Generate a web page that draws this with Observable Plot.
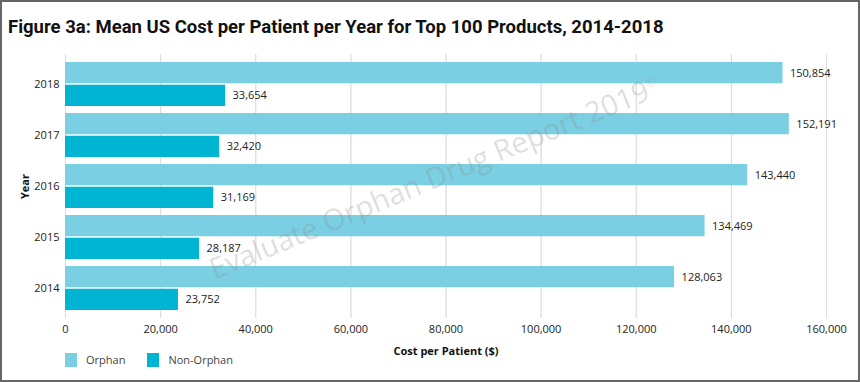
<!DOCTYPE html>
<html><head><meta charset="utf-8">
<script src="https://cdn.jsdelivr.net/npm/d3@7"></script>
<script src="https://cdn.jsdelivr.net/npm/@observablehq/plot@0.6"></script>
<style>
body{margin:0;background:#fff;font-family:"Open Sans",sans-serif;}
#wrap{position:relative;width:860px;height:382px;overflow:hidden;background:#fff;}
#border{position:absolute;left:0;top:0;width:860px;height:382px;box-sizing:border-box;border:2px solid #666;pointer-events:none;}
#title{position:absolute;left:8px;top:16px;font-family:Roboto,sans-serif;font-weight:700;font-size:18.5px;color:#111;white-space:nowrap;}
#chart{position:absolute;left:0;top:48px;}
#legend{position:absolute;left:65px;top:352px;font-size:11px;color:#444;display:flex;align-items:center;}
.sw{width:12px;height:14px;display:inline-block;margin-right:9px;}
.it{display:flex;align-items:center;margin-right:22px;}
#wm{position:absolute;left:192px;top:157px;font-size:29px;color:rgba(140,140,140,0.28);transform:rotate(-22.5deg);transform-origin:center;white-space:nowrap;pointer-events:none;}
#wm sup{font-size:13px;}
</style></head>
<body>
<div id="wrap">
  <div id="title">Figure 3a: Mean US Cost per Patient per Year for Top 100 Products, 2014-2018</div>
  <div id="chart"></div>
  <div id="legend"></div>
  <div id="wm">Evaluate Orphan Drug Report 2019<sup>©</sup></div>
  <div id="border"></div>
</div>
<script>
const years = [2018, 2017, 2016, 2015, 2014];
const orphan = [150854, 152191, 143440, 134469, 128063];
const nonOrphan = [33654, 32420, 31169, 28187, 23752];
const seriesNames = ["Orphan", "Non-Orphan"];
const colors = ["#7bcfe3", "#00b5d1"];
const xTicks = [0, 20000, 40000, 60000, 80000, 100000, 120000, 140000, 160000];

const W = 860, H = 312, mT = 6, mB = 42, mL = 65, mR = 34;
const pi = 0.133, po = 0.14;
const step = (H - mT - mB) / (years.length - pi + 2 * po);
const bw = step * (1 - pi);
const half = bw / 2;

const rowsO = years.map((y, i) => ({year: String(y), value: orphan[i]}));
const rowsN = years.map((y, i) => ({year: String(y), value: nonOrphan[i]}));
const fmt = d3.format(",");

const plot = Plot.plot({
  width: W, height: H,
  marginTop: mT, marginBottom: mB, marginLeft: mL, marginRight: mR,
  style: {fontFamily: "'Open Sans', sans-serif", fontSize: "11px", color: "#222", background: "transparent"},
  x: {domain: [0, 160000], ticks: xTicks, tickFormat: fmt, grid: true, label: "Cost per Patient ($)", labelAnchor: "center", labelArrow: "none", tickSize: 0, tickPadding: 7, labelOffset: 36},
  y: {domain: years.map(String), paddingInner: pi, paddingOuter: po, label: "Year", labelAnchor: "center", labelArrow: "none", tickSize: 0, tickPadding: 6, labelOffset: 44},
  marks: [
    Plot.gridX(xTicks, {stroke: "#ddd", strokeOpacity: 1}),
    Plot.barX(rowsO, {x: "value", y: "year", fill: colors[0], insetBottom: half + 0.5}),
    Plot.barX(rowsN, {x: "value", y: "year", fill: colors[1], insetTop: half + 0.5}),
    Plot.text(rowsO, {x: "value", y: "year", text: d => fmt(d.value), dx: 7, dy: -bw / 4, textAnchor: "start", fill: "#222"}),
    Plot.text(rowsN, {x: "value", y: "year", text: d => fmt(d.value), dx: 7, dy: bw / 4, textAnchor: "start", fill: "#222"})
  ]
});
document.getElementById("chart").appendChild(plot);
plot.querySelectorAll('[aria-label="x-axis label"] text, [aria-label="y-axis label"] text').forEach(t => { t.style.fontWeight = "700"; t.style.fontSize = "11px"; t.setAttribute("fill", "#111"); });

const lg = document.getElementById("legend");
seriesNames.forEach((n, i) => {
  const it = document.createElement("div"); it.className = "it";
  const sw = document.createElement("span"); sw.className = "sw"; sw.style.background = colors[i];
  const tx = document.createElement("span"); tx.textContent = n;
  it.appendChild(sw); it.appendChild(tx); lg.appendChild(it);
});
</script>
</body></html>
